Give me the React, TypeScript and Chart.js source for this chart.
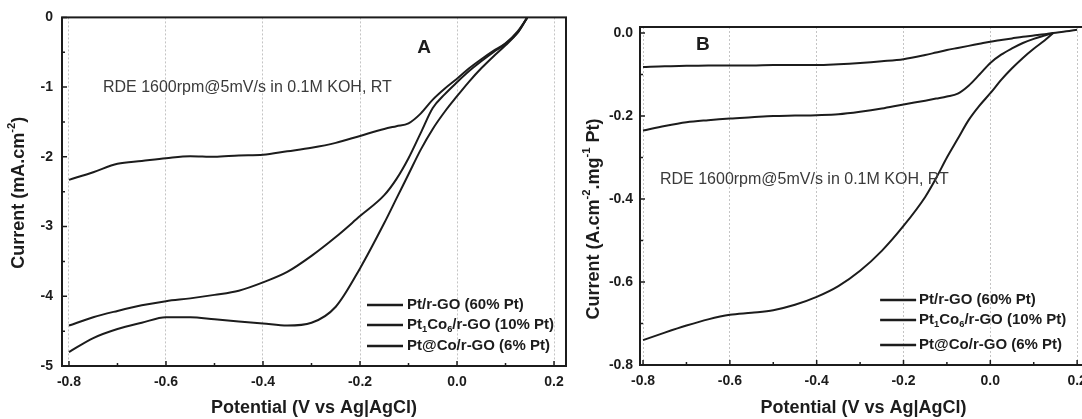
import React, { useEffect, useRef } from 'react';
import { Chart, registerables } from 'chart.js';

Chart.register(...registerables);

const FONT = "'Liberation Sans', Arial, Helvetica, sans-serif";
const INK = '#1c1c1c';

// ---------- Panel A data (current density, mA/cm2) ----------
const potentialA = [-0.8, -0.75, -0.7, -0.65, -0.6, -0.55, -0.5, -0.45, -0.4, -0.35, -0.3, -0.25, -0.2, -0.15, -0.125, -0.1, -0.075, -0.05, -0.025, 0, 0.025, 0.05, 0.075, 0.1, 0.125, 0.145];
const ptRgoA = [-2.33, -2.22, -2.1, -2.06, -2.02, -1.99, -2.0, -1.98, -1.97, -1.92, -1.87, -1.8, -1.7, -1.6, -1.56, -1.52, -1.38, -1.18, -1.02, -0.88, -0.73, -0.6, -0.48, -0.37, -0.2, 0];
const ptCoA = [-4.42, -4.3, -4.21, -4.13, -4.07, -4.03, -3.98, -3.92, -3.8, -3.65, -3.42, -3.15, -2.85, -2.55, -2.32, -2.02, -1.66, -1.3, -1.1, -0.93, -0.77, -0.63, -0.5, -0.38, -0.22, 0];
const ptAtCoA = [-4.8, -4.6, -4.47, -4.38, -4.3, -4.3, -4.33, -4.36, -4.39, -4.42, -4.38, -4.15, -3.6, -2.95, -2.6, -2.25, -1.9, -1.6, -1.35, -1.13, -0.92, -0.73, -0.56, -0.4, -0.22, 0];

// ---------- Panel B data (mass activity, A/cm2/mg Pt) ----------
const potentialB = [-0.8, -0.75, -0.7, -0.65, -0.6, -0.55, -0.5, -0.45, -0.4, -0.35, -0.3, -0.25, -0.2, -0.15, -0.125, -0.1, -0.075, -0.05, -0.025, 0, 0.025, 0.05, 0.075, 0.1, 0.125, 0.145, 0.175, 0.2];
const ptRgoB = [-0.082, -0.08, -0.079, -0.078, -0.078, -0.078, -0.077, -0.077, -0.077, -0.075, -0.072, -0.068, -0.063, -0.053, -0.047, -0.041, -0.036, -0.031, -0.026, -0.021, -0.017, -0.013, -0.009, -0.006, -0.003, 0, 0.004, 0.008];
const ptCoB = [-0.235, -0.224, -0.215, -0.21, -0.206, -0.203, -0.2, -0.199, -0.198, -0.196, -0.19, -0.182, -0.172, -0.163, -0.158, -0.153, -0.146, -0.127, -0.1, -0.072, -0.052, -0.037, -0.024, -0.014, -0.006, 0, null, null];
const ptAtCoB = [-0.74, -0.722, -0.705, -0.69, -0.679, -0.674, -0.668, -0.655, -0.636, -0.61, -0.573, -0.525, -0.465, -0.395, -0.35, -0.3, -0.255, -0.21, -0.175, -0.145, -0.113, -0.085, -0.06, -0.038, -0.018, 0, null, null];

// ---------- ticks & labels ----------
const xTicks = [-0.8, -0.6, -0.4, -0.2, 0.0, 0.2];
const xMinorTicks = [-0.7, -0.5, -0.3, -0.1, 0.1];
const yTicksA = [0, -1, -2, -3, -4, -5];
const yMinorTicksA = [-0.5, -1.5, -2.5, -3.5, -4.5];
const yTicksB = [0.0, -0.2, -0.4, -0.6, -0.8];
const yMinorTicksB = [-0.1, -0.3, -0.5, -0.7];

const seriesNames = ['Pt/r-GO (60% Pt)', 'Pt\u2081Co\u2086/r-GO (10% Pt)', 'Pt@Co/r-GO (6% Pt)'];
type Seg = { t: string; sup?: boolean; sub?: boolean };
const legendRich: Seg[][] = [
  [{ t: 'Pt/r-GO (60% Pt)' }],
  [{ t: 'Pt' }, { t: '1', sub: true }, { t: 'Co' }, { t: '6', sub: true }, { t: '/r-GO (10% Pt)' }],
  [{ t: 'Pt@Co/r-GO (6% Pt)' }],
];
const xTitle = 'Potential (V vs Ag|AgCl)';
const yTitleA: Seg[] = [{ t: 'Current (mA.cm' }, { t: '-2', sup: true }, { t: ')' }];
const yTitleB: Seg[] = [{ t: 'Current (A.cm' }, { t: '-2', sup: true }, { t: '.mg' }, { t: '-1', sup: true }, { t: ' Pt)' }];
const noteText = 'RDE 1600rpm@5mV/s in 0.1M KOH, RT';

function drawRich(ctx: CanvasRenderingContext2D, segs: Seg[], x: number, y: number, size: number, weight: string, align: string) {
  const parts = segs.map((s) => {
    const fs = s.sub || s.sup ? size * 0.62 : size;
    ctx.font = `${weight} ${fs}px ${FONT}`;
    return { ...s, fs, w: ctx.measureText(s.t).width };
  });
  const total = parts.reduce((a, p) => a + p.w, 0);
  let cx = align === 'center' ? x - total / 2 : align === 'right' ? x - total : x;
  ctx.textAlign = 'left';
  ctx.textBaseline = 'middle';
  for (const p of parts) {
    ctx.font = `${weight} ${p.fs}px ${FONT}`;
    const dy = p.sup ? -size * 0.38 : p.sub ? size * 0.32 : 0;
    ctx.fillText(p.t, cx, y + dy);
    cx += p.w;
  }
}

const figurePlugin = {
  id: 'figure',
  afterDatasetsDraw(chart: any, _args: any, o: any) {
    const ctx: CanvasRenderingContext2D = chart.ctx;
    const { left, right, top, bottom } = chart.chartArea;
    const xs = chart.scales.x;
    const ys = chart.scales.y;
    ctx.save();
    // frame
    ctx.strokeStyle = INK;
    ctx.lineWidth = 2;
    ctx.strokeRect(left, top, right - left, bottom - top);
    // inward ticks
    ctx.lineWidth = 1.5;
    ctx.beginPath();
    for (const v of o.xMajor) { const p = xs.getPixelForValue(v); ctx.moveTo(p, bottom); ctx.lineTo(p, bottom - 5); }
    for (const v of o.xMinor) { const p = xs.getPixelForValue(v); ctx.moveTo(p, bottom); ctx.lineTo(p, bottom - 3); }
    for (const v of o.yMajor) { const p = ys.getPixelForValue(v); ctx.moveTo(left, p); ctx.lineTo(left + 5, p); }
    for (const v of o.yMinor) { const p = ys.getPixelForValue(v); ctx.moveTo(left, p); ctx.lineTo(left + 3, p); }
    ctx.stroke();
    // panel letter
    ctx.fillStyle = INK;
    ctx.font = `bold 19px ${FONT}`;
    ctx.textAlign = 'center';
    ctx.textBaseline = 'middle';
    ctx.fillText(o.letter, xs.getPixelForValue(o.letterAt[0]), ys.getPixelForValue(o.letterAt[1]));
    // note
    ctx.fillStyle = '#3a3a3a';
    ctx.font = `16px ${FONT}`;
    ctx.textAlign = 'left';
    ctx.fillText(noteText, xs.getPixelForValue(o.noteAt[0]), ys.getPixelForValue(o.noteAt[1]));
    // legend
    ctx.fillStyle = INK;
    legendRich.forEach((segs, i) => {
      const y = bottom + o.legendRows[i];
      ctx.strokeStyle = INK;
      ctx.lineWidth = 2.5;
      ctx.beginPath();
      ctx.moveTo(right + o.legendX[0], y);
      ctx.lineTo(right + o.legendX[1], y);
      ctx.stroke();
      drawRich(ctx, segs, right + o.legendX[2], y, 15, 'bold', 'left');
    });
    // axis titles
    ctx.fillStyle = INK;
    ctx.font = `bold 18px ${FONT}`;
    ctx.textAlign = 'center';
    ctx.textBaseline = 'middle';
    ctx.fillText(xTitle, (left + right) / 2, o.xTitleY);
    ctx.save();
    ctx.translate(o.yTitleX, (top + bottom) / 2 + o.yTitleShift);
    ctx.rotate(-Math.PI / 2);
    drawRich(ctx, o.yTitle, 0, 0, 18, 'bold', 'center');
    ctx.restore();
    ctx.restore();
  },
};

function makeDataset(label: string, xsArr: number[], ysArr: (number | null)[]) {
  return {
    label,
    data: xsArr.map((x, i) => ({ x, y: ysArr[i] })).filter((p) => p.y !== null),
    borderColor: INK,
    backgroundColor: INK,
    borderWidth: 2,
    pointRadius: 0,
    cubicInterpolationMode: 'monotone' as const,
    fill: false,
  };
}

function buildConfig(p: any): any {
  const tickFont = { family: FONT, size: 14, weight: 'bold' as const };
  return {
    type: 'line',
    data: { datasets: p.datasets },
    plugins: [figurePlugin],
    options: {
      animation: false,
      responsive: false,
      devicePixelRatio: 1,
      layout: { padding: { top: p.padTop, right: p.padRight, left: 0, bottom: 0 } },
      plugins: {
        legend: { display: false },
        tooltip: { enabled: false },
        figure: p.figure,
      },
      scales: {
        x: {
          type: 'linear',
          min: p.xMin,
          max: p.xMax,
          afterBuildTicks: (s: any) => { s.ticks = xTicks.map((v) => ({ value: v })); },
          afterFit: (s: any) => { s.height = p.xAxisH; },
          grid: { display: true, drawTicks: false, color: '#c4c4c4', lineWidth: 1 },
          border: { display: false, dash: [2, 2] },
          ticks: { font: tickFont, color: INK, padding: 8, maxRotation: 0, autoSkip: false, callback: (v: any) => Number(v).toFixed(1) },
        },
        y: {
          type: 'linear',
          min: p.yMin,
          max: p.yMax,
          afterBuildTicks: (s: any) => { s.ticks = p.yTicks.map((v: number) => ({ value: v })); },
          afterFit: (s: any) => { s.width = p.yAxisW; },
          grid: { display: false, drawTicks: false },
          border: { display: false },
          ticks: { font: tickFont, color: INK, padding: p.yPad, autoSkip: false, callback: p.yFmt },
        },
      },
    },
  };
}

const panelA = {
  datasets: [
    makeDataset(seriesNames[0], potentialA, ptRgoA),
    makeDataset(seriesNames[1], potentialA, ptCoA),
    makeDataset(seriesNames[2], potentialA, ptAtCoA),
  ],
  xMin: -0.8144, xMax: 0.2247, yMin: -5, yMax: 0,
  yTicks: yTicksA,
  yFmt: (v: any) => String(Number(v)),
  padTop: 17, padRight: 14, xAxisH: 53, yAxisW: 62, yPad: 9,
  figure: {
    xMajor: xTicks, xMinor: xMinorTicks, yMajor: yTicksA, yMinor: yMinorTicksA,
    letter: 'A', letterAt: [-0.068, -0.44], noteAt: [-0.73, -1.0],
    legendRows: [-61, -41, -20], legendX: [-199, -163, -159],
    xTitleY: 408, yTitleX: 19, yTitleShift: 1, yTitle: yTitleA,
  },
};

const panelB = {
  datasets: [
    makeDataset(seriesNames[0], potentialB, ptRgoB),
    makeDataset(seriesNames[1], potentialB, ptCoB),
    makeDataset(seriesNames[2], potentialB, ptAtCoB),
  ],
  xMin: -0.807, xMax: 0.223, yMin: -0.8, yMax: 0.0145,
  yTicks: yTicksB,
  yFmt: (v: any) => Number(v).toFixed(1),
  padTop: 27, padRight: 6, xAxisH: 54, yAxisW: 80, yPad: 7,
  figure: {
    xMajor: xTicks, xMinor: xMinorTicks, yMajor: yTicksB, yMinor: yMinorTicksB,
    letter: 'B', letterAt: [-0.662, -0.029], noteAt: [-0.761, -0.354],
    legendRows: [-65, -45, -20], legendX: [-207, -171, -168],
    xTitleY: 408, yTitleX: 34, yTitleShift: 23, yTitle: yTitleB,
  },
};

function Panel({ cfg, left, width }: { cfg: any; left: number; width: number }) {
  const ref = useRef<HTMLCanvasElement>(null);
  useEffect(() => {
    const chart = new Chart(ref.current as HTMLCanvasElement, buildConfig(cfg));
    return () => chart.destroy();
  }, [cfg]);
  return (
    <div style={{ position: 'absolute', left, top: 0, width, height: 419 }}>
      <canvas ref={ref} width={width} height={419} style={{ width, height: 419, display: 'block' }} />
    </div>
  );
}

export default function App() {
  return (
    <div style={{ position: 'fixed', left: 0, top: 0, width: 1082, height: 419, overflow: 'hidden', background: '#ffffff' }}>
      <Panel cfg={panelA} left={0} width={580} />
      <Panel cfg={panelB} left={560} width={535} />
    </div>
  );
}
